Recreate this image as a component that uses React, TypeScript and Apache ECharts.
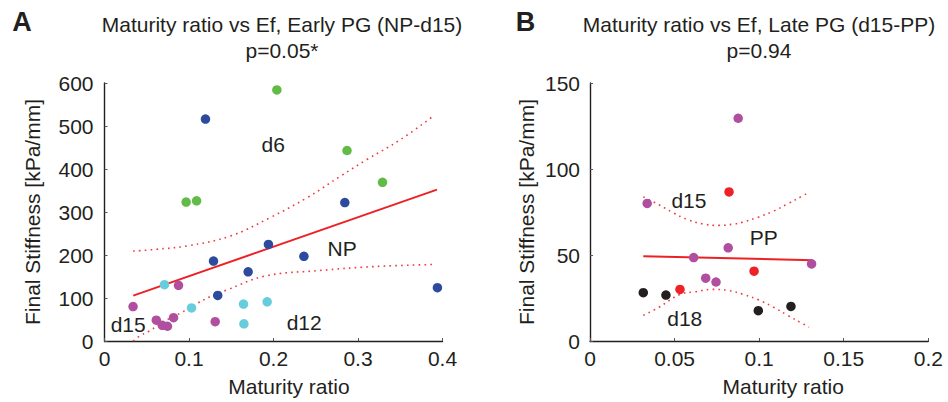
import React, { useEffect, useRef } from "react";
import * as echarts from "echarts";

const FONT = "'Liberation Sans', Arial, Helvetica, sans-serif";
const INK = "#231F20";
const RED = "#EE2024";

// Texts
const titleA = ["Maturity ratio vs Ef, Early PG (NP-d15)", "p=0.05*"];
const titleB = ["Maturity ratio vs Ef, Late PG (d15-PP)", "p=0.94"];
const panelLetters = ["A", "B"];
const xName = "Maturity ratio";
const yName = "Final Stiffness [kPa/mm]";

// Axis ticks
const xTicksA = [0, 0.1, 0.2, 0.3, 0.4];
const yTicksA = [0, 100, 200, 300, 400, 500, 600];
const xTicksB = [0, 0.05, 0.1, 0.15, 0.2];
const yTicksB = [0, 50, 100, 150];

// Panel A groups [maturity ratio, final stiffness]
const d6 = [[0.204, 584], [0.287, 443], [0.329, 369], [0.0966, 323], [0.109, 326]];
const NP = [[0.1195, 516], [0.2844, 322], [0.194, 224.5], [0.236, 197], [0.129, 186], [0.17, 161], [0.134, 106], [0.394, 124]];
const d12 = [[0.071, 131], [0.103, 77], [0.1645, 86], [0.1925, 91], [0.165, 40]];
const d15 = [[0.0338, 80], [0.0613, 48.5], [0.0684, 36.5], [0.0745, 34.3], [0.0817, 54.2], [0.0876, 129.5], [0.131, 44.8]];

// Panel B groups
const PP = [[0.0822, 86.7], [0.097, 40.6], [0.0532, 30]];
const d18 = [[0.0315, 28.1], [0.0449, 26.7], [0.0995, 17.6], [0.1188, 20.1]];

// Fit lines and confidence bands
const fitA = [[0.034, 105.5], [0.3935, 352]];
const upperA = [[0.034, 209], [0.06, 213], [0.0975, 221], [0.1487, 244], [0.196, 287], [0.2395, 333], [0.279, 383], [0.3105, 422], [0.35, 468], [0.389, 523]];
const lowerA = [[0.034, 0], [0.042, 12], [0.052, 22], [0.07, 45], [0.0928, 68], [0.1093, 87], [0.126, 104], [0.144, 118], [0.19, 151], [0.255, 164], [0.318, 173], [0.391, 178]];

const fitB = [[0.0315, 49.3], [0.1317, 47.0]];
const upperB = [[0.0315, 83.8], [0.0404, 79.4], [0.0493, 74.5], [0.0575, 70.6], [0.0666, 68.1], [0.0759, 67.2], [0.0857, 68.1], [0.0903, 69.1], [0.0995, 72], [0.1084, 75.5], [0.1172, 79.9], [0.1253, 84.2], [0.1295, 86.5]];
const lowerB = [[0.0315, 14.9], [0.0404, 19.4], [0.0532, 27.1], [0.0621, 28.6], [0.0719, 30], [0.0818, 29.4], [0.0906, 27.1], [0.0999, 23.8], [0.1084, 19.7], [0.1169, 14.9], [0.1253, 10.3], [0.1295, 8]];

// Group annotations [label, x, y]
const labelsA: [string, number, number][] = [["d6", 0.1996, 457], ["NP", 0.2813, 215], ["d12", 0.2363, 43], ["d15", 0.028, 39]];
const labelsB: [string, number, number][] = [["d15", 0.0585, 81.8], ["PP", 0.1027, 60.2], ["d18", 0.056, 13.2]];

const COLORS = {
  d6: "#63BB47",
  NP: "#2D4B9E",
  d12: "#67CCDC",
  d15: "#B04E9F",
  PP: "#EE2226",
  d18: "#231F20",
};

function axisPair(i: number, xt: number[], yt: number[], yGap: number, xPad: number, yLabelMargin: number) {
  const axisLine = { show: true, onZero: false, lineStyle: { color: INK, width: 1.4 } };
  const axisTick = { show: true, inside: true, length: 3, lineStyle: { color: "#555", width: 1 } };
  const x = {
    type: "value",
    gridIndex: i,
    min: xt[0],
    max: xt[xt.length - 1],
    interval: xt[1] - xt[0],
    name: xName,
    nameLocation: "middle",
    nameGap: 35,
    nameTextStyle: { fontSize: 21, color: INK, fontFamily: FONT, padding: [0, 0, 0, xPad] },
    axisLine,
    axisTick,
    splitLine: { show: false },
    axisLabel: { fontSize: 21, color: INK, fontFamily: FONT, margin: 7, formatter: (v: number) => String(+v.toFixed(2)) },
  };
  const y = {
    type: "value",
    gridIndex: i,
    min: yt[0],
    max: yt[yt.length - 1],
    interval: yt[1] - yt[0],
    name: yName,
    nameLocation: "middle",
    nameGap: yGap,
    nameTextStyle: { fontSize: 21, color: INK, fontFamily: FONT },
    axisLine,
    axisTick,
    splitLine: { show: false },
    axisLabel: { fontSize: 21, color: INK, fontFamily: FONT, margin: yLabelMargin },
  };
  return { x, y };
}

function scatter(name: string, data: number[][], color: string, idx: number) {
  return {
    type: "scatter",
    name,
    xAxisIndex: idx,
    yAxisIndex: idx,
    data,
    symbolSize: 9.5,
    itemStyle: { color, opacity: 1 },
    silent: true,
    z: 5,
  };
}

function band(data: number[][], idx: number) {
  return {
    type: "line",
    xAxisIndex: idx,
    yAxisIndex: idx,
    data,
    smooth: 0.4,
    showSymbol: false,
    symbol: "none",
    silent: true,
    lineStyle: { color: "#EE3A3F", width: 1.6, type: [1.6, 4.2] },
    z: 2,
  };
}

function fit(data: number[][], idx: number) {
  return {
    type: "line",
    xAxisIndex: idx,
    yAxisIndex: idx,
    data,
    showSymbol: false,
    symbol: "none",
    silent: true,
    lineStyle: { color: RED, width: 2 },
    z: 3,
  };
}

function labels(list: [string, number, number][], idx: number) {
  return {
    type: "scatter",
    xAxisIndex: idx,
    yAxisIndex: idx,
    symbolSize: 1,
    silent: true,
    itemStyle: { color: "rgba(0,0,0,0)" },
    data: list.map(([n, x, y]) => ({ name: n, value: [x, y] })),
    label: {
      show: true,
      position: "inside",
      formatter: "{b}",
      fontSize: 21,
      color: INK,
      opacity: 1,
      textBorderWidth: 0,
      fontFamily: FONT,
    },
    z: 6,
  };
}

export default function App() {
  const ref = useRef<HTMLDivElement>(null);
  useEffect(() => {
    if (!ref.current) return;
    const chart = echarts.init(ref.current, undefined, { renderer: "svg" });
    const A = axisPair(0, xTicksA, yTicksA, 62, 31, 11);
    const B = axisPair(1, xTicksB, yTicksB, 53, 48, 10);
    const titleText = (t: string, x: number, y: number) => ({
      type: "text",
      x,
      y,
      style: { text: t, font: `21px ${FONT}`, fill: INK, align: "center", verticalAlign: "middle" },
    });
    chart.setOption({
      animation: false,
      textStyle: { fontFamily: FONT },
      grid: [
        { left: 104.5, top: 83, width: 338, height: 259, containLabel: false },
        { left: 590, top: 83, width: 338.3, height: 259, containLabel: false },
      ],
      xAxis: [A.x, B.x],
      yAxis: [A.y, B.y],
      graphic: [
        titleText(titleA[0], 282, 24),
        titleText(titleA[1], 282, 50),
        titleText(titleB[0], 759, 24),
        titleText(titleB[1], 759, 50),
        {
          type: "text",
          x: 22,
          y: 22,
          style: { text: panelLetters[0], font: `bold 27px ${FONT}`, fill: INK, align: "center", verticalAlign: "middle" },
        },
        {
          type: "text",
          x: 525.5,
          y: 22,
          style: { text: panelLetters[1], font: `bold 27px ${FONT}`, fill: INK, align: "center", verticalAlign: "middle" },
        },
      ],
      series: [
        band(upperA, 0),
        band(lowerA, 0),
        fit(fitA, 0),
        scatter("d6", d6, COLORS.d6, 0),
        scatter("NP", NP, COLORS.NP, 0),
        scatter("d12", d12, COLORS.d12, 0),
        scatter("d15", d15, COLORS.d15, 0),
        labels(labelsA, 0),
        band(upperB, 1),
        band(lowerB, 1),
        fit(fitB, 1),
        scatter("d15", d15, COLORS.d15, 1),
        scatter("PP", PP, COLORS.PP, 1),
        scatter("d18", d18, COLORS.d18, 1),
        labels(labelsB, 1),
      ],
    });
    return () => chart.dispose();
  }, []);
  return (
    <div
      ref={ref}
      style={{ position: "fixed", left: 0, top: 0, width: 948, height: 402, background: "#fff" }}
    />
  );
}
